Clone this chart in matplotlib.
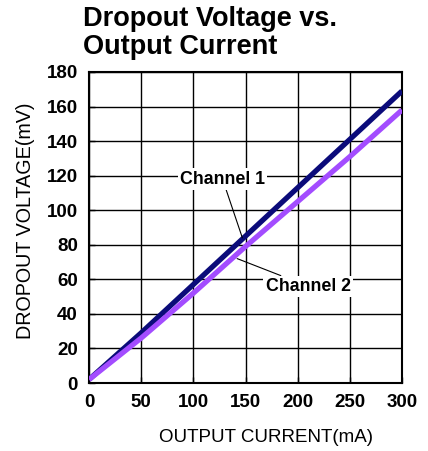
import matplotlib
matplotlib.use("Agg")
import matplotlib.pyplot as plt

current = [0, 50, 100, 150, 200, 250, 300]
ch1_mv = [2, 29, 57, 85, 113, 141, 169]
ch2_mv = [2, 26, 52, 79, 105, 131, 158]

xticks = [0, 50, 100, 150, 200, 250, 300]
yticks = [0, 20, 40, 60, 80, 100, 120, 140, 160, 180]

plt.rcParams['font.family'] = ['Liberation Sans', 'DejaVu Sans']

fig = plt.figure(figsize=(4.28, 4.51), dpi=100)
ax = fig.add_axes([89 / 428, 1 - 383 / 451, 313 / 428, 311 / 451])

ax.plot(current, ch1_mv, color='#0b0b7a', lw=3.8, solid_capstyle='butt', zorder=3)
ax.plot(current, ch2_mv, color='#a34cff', lw=3.8, solid_capstyle='butt', zorder=3)

ax.set_xlim(0, 300)
ax.set_ylim(0, 180)
ax.set_xticks(xticks)
ax.set_yticks(yticks)
ax.grid(True, color='black', lw=1.0)
ax.set_axisbelow(True)
for s in ax.spines.values():
    s.set_linewidth(1.5)
ax.tick_params(direction='in', length=4, width=1, pad=8, labelsize=13.5)
for lab in ax.get_xticklabels() + ax.get_yticklabels():
    lab.set_fontweight('bold')

ax.set_xlabel('OUTPUT CURRENT(mA)', fontsize=13.5, va='center')
ax.set_ylabel('DROPOUT VOLTAGE(mV)', fontsize=14.2, va='center')
ax.xaxis.set_label_coords((266 - 89) / 313, (383 - 438) / 311)
ax.yaxis.set_label_coords((26 - 89) / 313, (383 - 221) / 311)

box = dict(facecolor='white', edgecolor='none', pad=1.5)
ax.annotate('Channel 1', xy=(147, 84), xytext=(128, 118),
            ha='center', va='center', fontsize=12.8, fontweight='bold', bbox=box,
            arrowprops=dict(arrowstyle='-', color='black', lw=0.8, shrinkA=0, shrinkB=0), zorder=4)
ax.annotate('Channel 2', xy=(142, 72), xytext=(210, 56),
            ha='center', va='center', fontsize=12.8, fontweight='bold', bbox=box,
            arrowprops=dict(arrowstyle='-', color='black', lw=0.8, shrinkA=0, shrinkB=0), zorder=4)

fig.text(83 / 428, 1 - 6 / 451, 'Dropout Voltage vs.\nOutput Current', ha='left', va='top',
         fontsize=19.5, fontweight='bold', linespacing=1.08)

fig.savefig('out.png', dpi=100)
